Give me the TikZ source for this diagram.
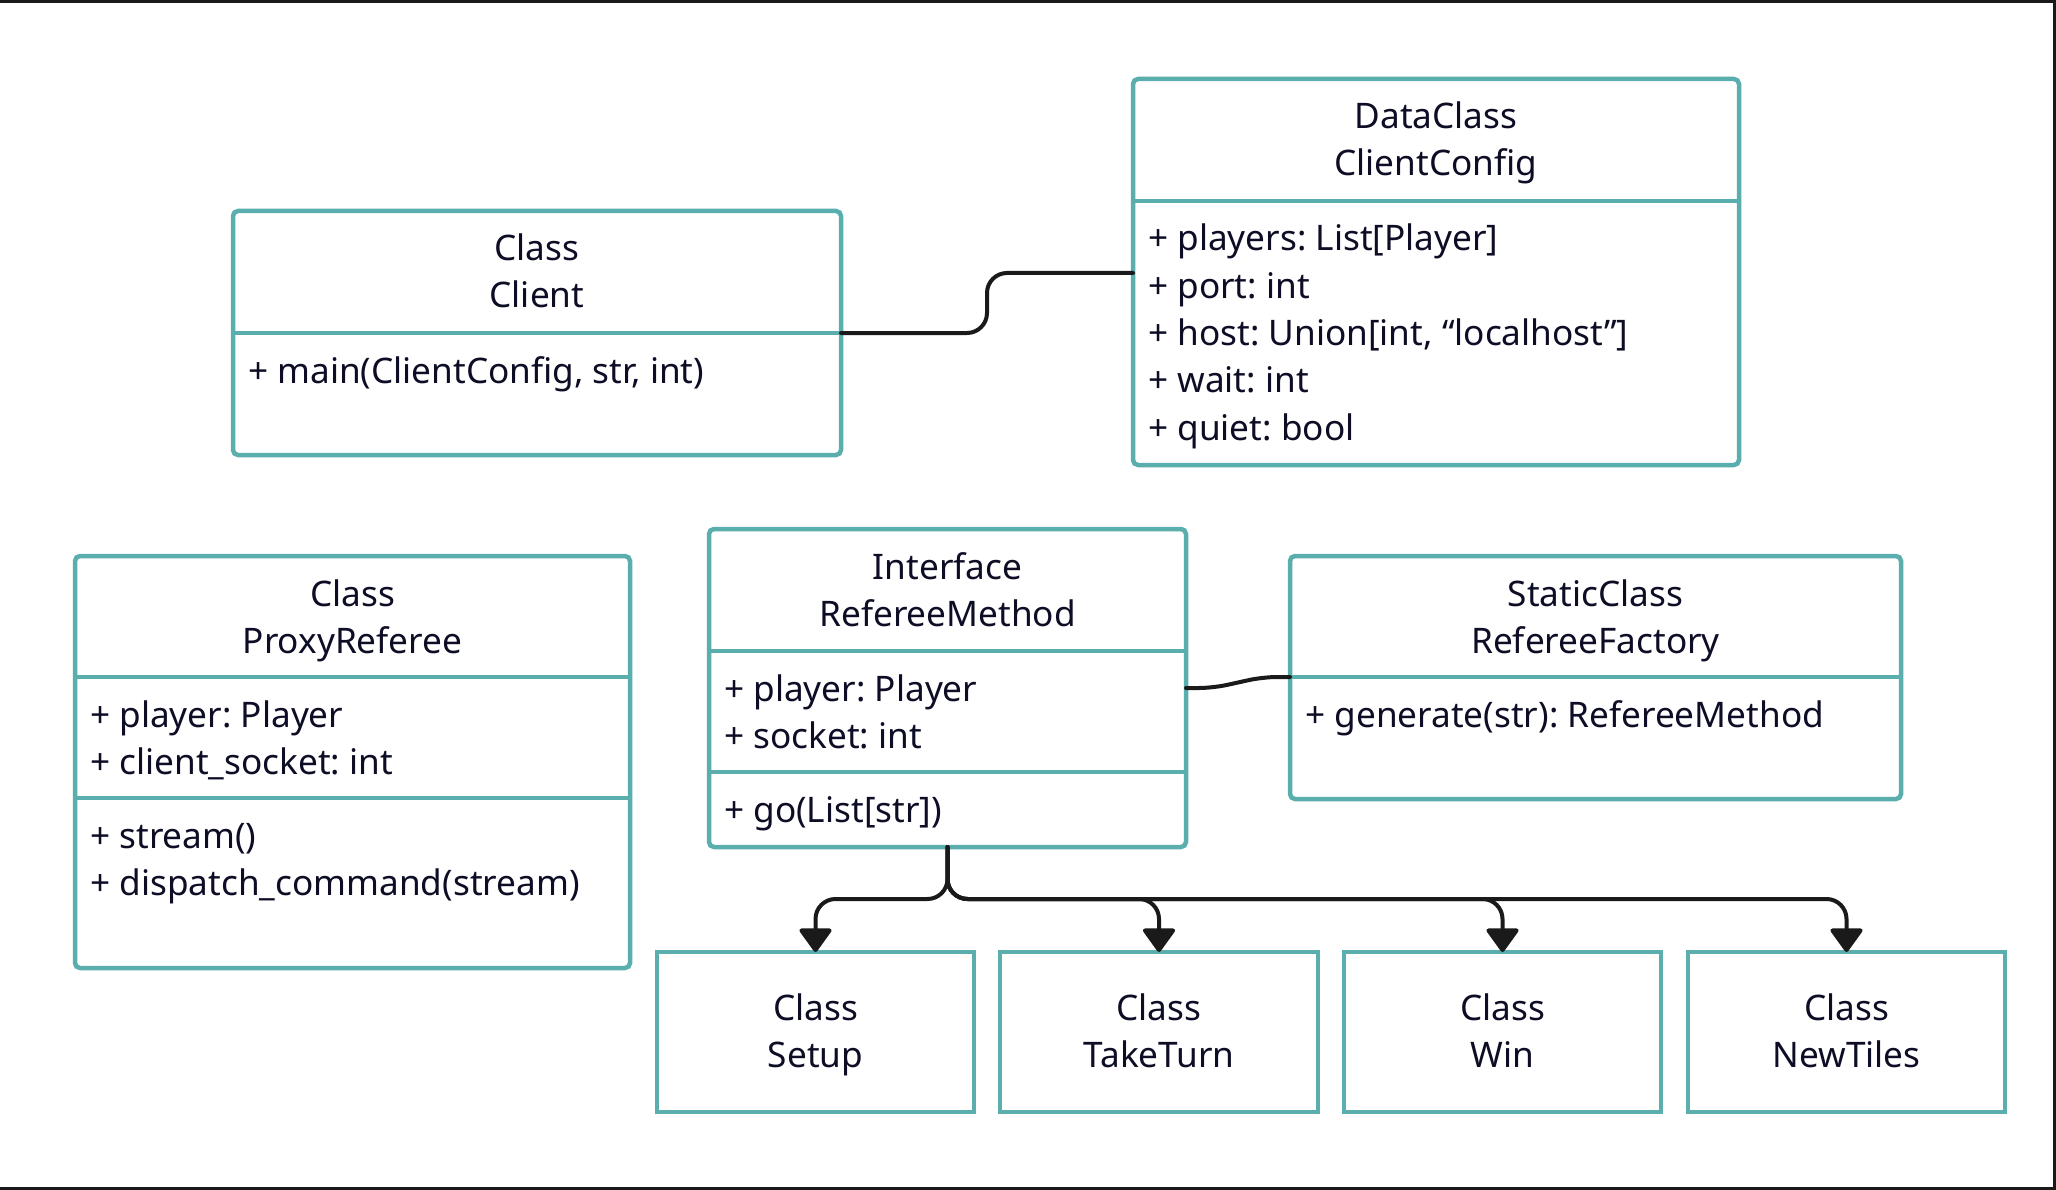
\documentclass[tikz,border=0pt]{standalone}
\usepackage{fontspec}
\setmainfont{Noto Sans}
\frenchspacing
\usetikzlibrary{arrows.meta}
\definecolor{umlteal}{HTML}{5AAEAE}
\definecolor{ink}{HTML}{0D0D26}
\definecolor{wire}{HTML}{1A1A1A}
\tikzset{
  umlbox/.style={draw=umlteal, line width=4.5pt, rounded corners=5pt, fill=white, anchor=north west, inner sep=0pt, outer sep=0pt},
  leafbox/.style={umlbox, rounded corners=0pt},
  divline/.style={draw=umlteal, line width=4.5pt},
  title/.style={anchor=base, inner sep=0pt, text=ink, font=\fontsize{35.2}{40}\selectfont},
  member/.style={anchor=base west, inner sep=0pt, text=ink, font=\fontsize{35.2}{40}\selectfont},
  conn/.style={draw=wire, line width=4pt, line cap=round, line join=round},
  arr/.style={conn, -{Triangle[length=25pt,width=35pt,round]}},
}
\begin{document}
\begin{tikzpicture}[x=1pt,y=-1pt]
\useasboundingbox (0,0) rectangle (2056,1190);
\fill[white] (0,0) rectangle (2056,1190);
% frame
\fill[wire] (0,0) rectangle (2056,3);
\fill[wire] (0,1187) rectangle (2056,1190);
\fill[wire] (2053,0) rectangle (2056,1190);

% boxes
\node[umlbox, minimum width=608pt, minimum height=244pt] (client) at (233,211) {};
\node[umlbox, minimum width=606pt, minimum height=386pt] (config) at (1133,79) {};
\node[umlbox, minimum width=555pt, minimum height=412pt] (proxy) at (75,556) {};
\node[umlbox, minimum width=477pt, minimum height=318pt] (method) at (709,529) {};
\node[umlbox, minimum width=611pt, minimum height=243pt] (factory) at (1290,556) {};
\node[leafbox, minimum width=317pt, minimum height=160pt] (setup) at (657,952) {};
\node[leafbox, minimum width=318pt, minimum height=160pt] (taketurn) at (1000,952) {};
\node[leafbox, minimum width=317pt, minimum height=160pt] (win) at (1344,952) {};
\node[leafbox, minimum width=317pt, minimum height=160pt] (newtiles) at (1688,952) {};

% dividers
\draw[divline] (client.west |- 0,333) -- (client.east |- 0,333);
\draw[divline] (config.west |- 0,201) -- (config.east |- 0,201);
\draw[divline] (proxy.west |- 0,677) -- (proxy.east |- 0,677);
\draw[divline] (proxy.west |- 0,798) -- (proxy.east |- 0,798);
\draw[divline] (method.west |- 0,651) -- (method.east |- 0,651);
\draw[divline] (method.west |- 0,772) -- (method.east |- 0,772);
\draw[divline] (factory.west |- 0,677) -- (factory.east |- 0,677);

% titles
\node[title] (t1a) at (537,261) {Class};
\node[title] (t1b) at (537,308) {Client};
\node[title] (t2a) at (1436,129) {DataClass};
\node[title] (t2b) at (1436,176) {ClientConfig};
\node[title] (t3a) at (352.5,606) {Class};
\node[title] (t3b) at (352.5,653) {ProxyReferee};
\node[title] (t4a) at (947.5,579) {Interface};
\node[title] (t4b) at (947.5,626) {RefereeMethod};
\node[title] (t5a) at (1595.5,606) {StaticClass};
\node[title] (t5b) at (1595.5,653) {RefereeFactory};
\node[title] (t6a) at (815.5,1020) {Class};
\node[title] (t6b) at (815.5,1067) {Setup};
\node[title] (t7a) at (1159,1020) {Class};
\node[title] (t7b) at (1159,1067) {TakeTurn};
\node[title] (t8a) at (1502.5,1020) {Class};
\node[title] (t8b) at (1502.5,1067) {Win};
\node[title] (t9a) at (1846.5,1020) {Class};
\node[title] (t9b) at (1846.5,1067) {NewTiles};

% members
\node[member] (m1) at (248,383) {+ main(ClientConfig, str, int)};
\node[member] (m2) at (1148,251) {+ players: List[Player]};
\node[member] (m3) at (1148,298.3) {+ port: int};
\node[member] (m4) at (1148,345.6) {+ host: Union[int, “localhost”]};
\node[member] (m5) at (1148,392.9) {+ wait: int};
\node[member] (m6) at (1148,440.2) {+ quiet: bool};
\node[member] (m7) at (90,727) {+ player: Player};
\node[member] (m8) at (90,774.3) {+ client\_socket: int};
\node[member] (m9) at (90,848) {+ stream()};
\node[member] (m10) at (90,895.3) {+ dispatch\_command(stream)};
\node[member] (m11) at (724,701) {+ player: Player};
\node[member] (m12) at (724,748.3) {+ socket: int};
\node[member] (m13) at (724,822) {+ go(List[str])};
\node[member] (m14) at (1305,727) {+ generate(str): RefereeMethod};

% connectors
\draw[conn, rounded corners=20pt] (client.east |- 0,333) -- (987,333) -- (987,273) -- (config.west |- 0,273);
\draw[conn, rounded corners=14pt] (method.east |- 0,688) -- (1213,688) -- (1263,677) -- (factory.west |- 0,677);
\foreach \c in {setup,taketurn,win,newtiles}
  \draw[arr, rounded corners=20pt] (method.south) -- ++(0,52) -| (\c.north);
\end{tikzpicture}
\end{document}
